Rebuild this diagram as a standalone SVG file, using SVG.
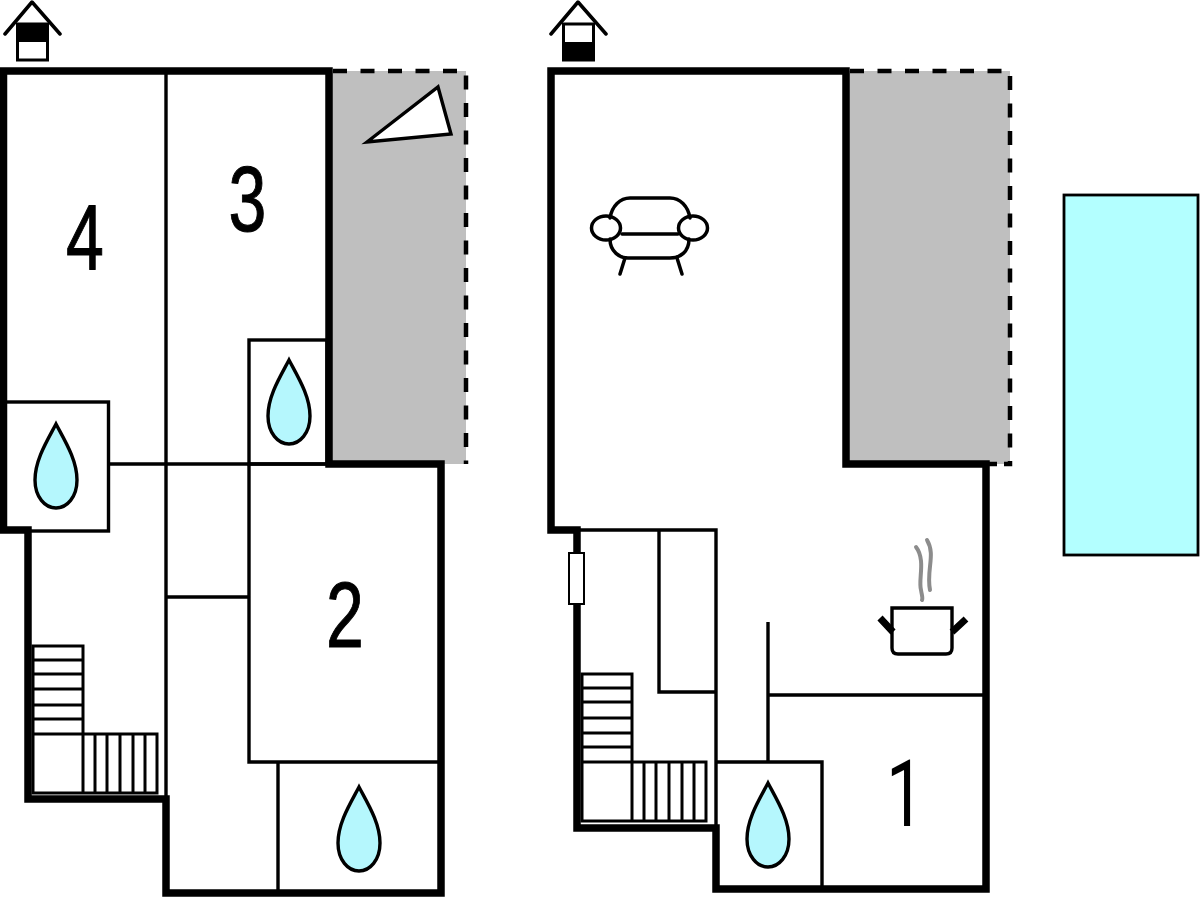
<svg xmlns="http://www.w3.org/2000/svg" width="1200" height="900" viewBox="0 0 1200 900">
<style>
.w{fill:none;stroke:#000;stroke-width:7.500;stroke-linejoin:miter}
.t{fill:none;stroke:#000;stroke-width:3.400}
.s{fill:none;stroke:#000;stroke-width:3}
.d{fill:none;stroke:#000;stroke-width:4.500;stroke-dasharray:14 13.5}
.g{fill:#bfbfbf}
.drop{fill:#b5f7fd;stroke:#000;stroke-width:3.400}
.n{font-family:"Liberation Sans",Arial,sans-serif;font-size:92px;fill:#000;stroke:#000;stroke-width:1;text-anchor:middle}
.r{font-family:Roboto,"Liberation Sans",sans-serif;font-size:93px;fill:#000;text-anchor:middle}
.i{fill:none;stroke:#000;stroke-width:3.500;stroke-linecap:round;stroke-linejoin:round}
</style>
<defs>
<path id="dp" d="M0,-42 C9,-25 21,-6 21,14 C21,31 11,42 0,42 C-11,42 -21,31 -21,14 C-21,-6 -9,-25 0,-42Z"/>
</defs>
<rect width="1200" height="900" fill="#fff"/>
<g id="terrace-left"><rect class="g" x="330" y="71" width="136" height="393"/><path class="d" d="M333,71H466V464"/>
<path d="M367,142L438,87L451,134Z" fill="#fff" stroke="#000" stroke-width="3.400"/></g>
<g id="terrace-right"><rect class="g" x="846" y="71" width="164" height="393"/><path class="d" d="M850,71H1010V464H1004"/><path d="M986,464H997" stroke="#000" stroke-width="4.500" fill="none"/></g>
<g id="pool"><rect x="1064" y="195" width="134" height="360" fill="#b3ffff" stroke="#000" stroke-width="2.800"/></g>
<g id="plan-left">
<g id="walls-left">
<path class="t" d="M166,71V799M109,464H329M166,597H249M249,464V762H441M278,762V893"/>
<rect class="t" x="3" y="402" width="105.500" height="129"/>
<rect class="t" x="249" y="340" width="78" height="124"/>
<path class="w" d="M3.500,71H329V464H441V893H166V799H28V530H3.500V71Z"/>
</g>
<g id="stairs-left"><path class="s" d="M33,646H83V793H33ZM33,660H83M33,674H83M33,689H83M33,705H83M33,719H83M33,734H157V793H83M95,734V793M107,734V793M120,734V793M133,734V793M145,734V793"/></g>
</g>
<g id="plan-right">
<g id="walls-right">
<path class="t" d="M577,530H716V889M659,530V692H716M768,622V762M768,695H986M716,762H822V889"/>
<path class="w" d="M551,71H846V464H986V889H716V828H577V530H551Z"/>
<rect x="569" y="553" width="15" height="51" fill="#fff" stroke="#000" stroke-width="2"/>
</g>
<g id="stairs-right"><path class="s" d="M582,674H632V821H582ZM582,688H632M582,702H632M582,718H632M582,733H632M582,747H632M582,762H706V821H632M644,762V821M656,762V821M669,762V821M682,762V821M694,762V821"/></g>
</g>
<g id="drop-1"><use href="#dp" x="56" y="466" class="drop"/></g>
<g id="drop-2"><use href="#dp" x="289" y="402" class="drop"/></g>
<g id="drop-3"><use href="#dp" x="359" y="829" class="drop"/></g>
<g id="drop-4"><use href="#dp" x="768" y="825" class="drop"/></g>
<g id="label-4"><text class="n" transform="translate(85,269) scale(.74,1)">4</text></g>
<g id="label-3"><text class="n" transform="translate(247.500,231) scale(.74,1)">3</text></g>
<g id="label-2"><text class="n" transform="translate(345,647) scale(.74,1)">2</text></g>
<g id="label-1"><text class="r" transform="translate(905,826) scale(.72,1)">1</text></g>
<g id="house-left"><path class="i" d="M5,34L32,2L60,34"/><rect x="17.500" y="24" width="30" height="36" fill="#fff" stroke="#000" stroke-width="3"/><rect x="16" y="23" width="33" height="19" fill="#000"/></g>
<g id="house-right"><path class="i" d="M551,34L578,2L606,34"/><rect x="563.500" y="24" width="30" height="36" fill="#fff" stroke="#000" stroke-width="3"/><rect x="562" y="42" width="33" height="19" fill="#000"/></g>
<g id="sofa" class="i">
<path d="M610,218C612,206 620,198 630,198H670C680,198 688,206 690,218"/>
<path d="M610,239C610,252 620,258 628,258H670C680,258 689,252 689,239"/>
<path d="M622,234H678M625,258L620,274M677,258L682,274"/>
<ellipse cx="606" cy="228" rx="14.500" ry="12"/>
<ellipse cx="693" cy="228" rx="14.500" ry="12"/>
</g>
<g id="pot">
<path d="M892,608H952V648Q952,654 946,654H898Q892,654 892,648Z" fill="#fff" stroke="#000" stroke-width="3.400"/>
<path d="M880,618L893,632M966,619L952,632" stroke="#000" stroke-width="7" fill="none"/>
<path d="M916,547C926,560 918,580 921,590C922,596 923,598 922,600M927,540C936,555 926,570 930,590" fill="none" stroke="#8c8c8c" stroke-width="4" stroke-linecap="round"/>
</g>
</svg>
